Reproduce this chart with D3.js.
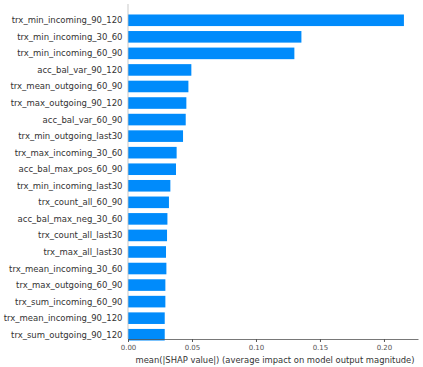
<!DOCTYPE html>
<html>
<head>
<meta charset="utf-8">
<script src="https://cdn.jsdelivr.net/npm/d3@7"></script>
<style>
  body { margin: 0; background: #fff; }
  text { font-family: "DejaVu Sans", sans-serif; }
</style>
</head>
<body>
<svg id="chart" width="423" height="367"></svg>
<script>
// features, top to bottom
const features = [
  "trx_min_incoming_90_120", "trx_min_incoming_30_60", "trx_min_incoming_60_90",
  "acc_bal_var_90_120", "trx_mean_outgoing_60_90", "trx_max_outgoing_90_120",
  "acc_bal_var_60_90", "trx_min_outgoing_last30", "trx_max_incoming_30_60",
  "acc_bal_max_pos_60_90", "trx_min_incoming_last30", "trx_count_all_60_90",
  "acc_bal_max_neg_30_60", "trx_count_all_last30", "trx_max_all_last30",
  "trx_mean_incoming_30_60", "trx_max_outgoing_60_90", "trx_sum_incoming_60_90",
  "trx_mean_incoming_90_120", "trx_sum_outgoing_90_120"
];
const meanShap = [
  0.2156, 0.1355, 0.130, 0.0495, 0.0472, 0.0456, 0.0451, 0.043, 0.038, 0.0375,
  0.0331, 0.032, 0.0308, 0.0305, 0.0297, 0.030, 0.0292, 0.0292, 0.0287, 0.0287
];
const xTicks = [0, 0.05, 0.10, 0.15, 0.20];

const margin = {top: 4, right: 5, bottom: 28, left: 128};
const width = 423 - margin.left - margin.right;
const height = 367 - margin.top - margin.bottom;

const svg = d3.select("#chart")
  .append("g")
  .attr("transform", "translate(" + margin.left + "," + margin.top + ")");

const x = d3.scaleLinear().domain([0, 0.2266]).range([0, width]);
const y = d3.scaleBand().domain(features).range([8, height + 4]).paddingInner(0.3).paddingOuter(0.15);

svg.selectAll("rect.bar")
  .data(features)
  .enter().append("rect")
  .attr("class", "bar")
  .attr("x", x(0))
  .attr("y", d => y(d))
  .attr("width", (d, i) => x(meanShap[i]) - x(0))
  .attr("height", y.bandwidth())
  .attr("fill", "#008bfb");

// feature labels
svg.selectAll("text.lbl")
  .data(features)
  .enter().append("text")
  .attr("class", "lbl")
  .attr("x", -5.5)
  .attr("y", d => y(d) + y.bandwidth() / 2)
  .attr("dy", "0.35em")
  .attr("text-anchor", "end")
  .attr("font-size", "8.5px")
  .attr("fill", "#333")
  .text(d => d);

// zero line
svg.append("line")
  .attr("x1", x(0)).attr("x2", x(0))
  .attr("y1", 0).attr("y2", height)
  .attr("stroke", "#bbb")
  .attr("stroke-width", 0.8);

// x axis
const xAxis = svg.append("g")
  .attr("transform", "translate(0," + height + ")")
  .call(d3.axisBottom(x).tickValues(xTicks).tickFormat(d3.format(".2f")).tickSize(3).tickSizeOuter(0));
xAxis.select(".domain").attr("stroke", "#555").attr("stroke-width", 0.8);
xAxis.selectAll(".tick line").attr("stroke", "#555");
xAxis.selectAll("text").attr("font-size", "7px").attr("fill", "#555").attr("font-family", "DejaVu Sans");

svg.append("text")
  .attr("x", width / 2 + 2)
  .attr("y", height + 24)
  .attr("text-anchor", "middle")
  .attr("font-size", "8.4px")
  .attr("fill", "#333")
  .text("mean(|SHAP value|) (average impact on model output magnitude)");
</script>
</body>
</html>
